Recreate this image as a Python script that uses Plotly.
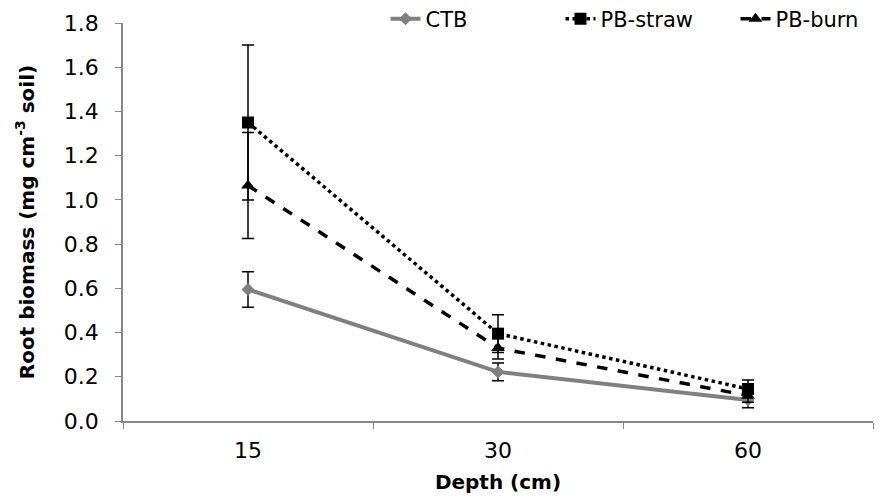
import plotly.graph_objects as go

depths = ["15", "30", "60"]
ctb = [0.595, 0.222, 0.095]
ctb_err = [0.08, 0.04, 0.035]
pb_straw = [1.35, 0.395, 0.145]
pb_straw_err = [0.35, 0.085, 0.04]
pb_burn = [1.065, 0.33, 0.115]
pb_burn_err = [0.24, 0.05, 0.03]

FONT = "DejaVu Sans, Liberation Sans, Arial"

fig = go.Figure()
err_style = dict(type="data", visible=True, color="black", thickness=1.5, width=6)

fig.add_trace(go.Scatter(
    x=depths, y=ctb, name="CTB", mode="lines+markers",
    line=dict(color="#808080", width=4),
    marker=dict(symbol="diamond", size=10, color="#808080"),
    error_y=dict(array=ctb_err, **err_style)))
fig.add_trace(go.Scatter(
    x=depths, y=pb_straw, name="PB-straw", mode="lines+markers",
    line=dict(color="black", width=3.5, dash="dot"),
    marker=dict(symbol="square", size=12, color="black"),
    error_y=dict(array=pb_straw_err, **err_style)))
fig.add_trace(go.Scatter(
    x=depths, y=pb_burn, name="PB-burn", mode="lines+markers",
    line=dict(color="black", width=3.5, dash="dash"),
    marker=dict(symbol="triangle-up", size=12, color="black"),
    error_y=dict(array=pb_burn_err, **err_style)))

fig.update_layout(
    width=890, height=499,
    margin=dict(l=123, r=17, t=23, b=78, autoexpand=False),
    plot_bgcolor="white", paper_bgcolor="white",
    font=dict(family=FONT, size=22, color="black"),
    legend=dict(orientation="h", x=1.05, xanchor="right", y=1.01, yanchor="middle",
                font=dict(family=FONT, size=21), bgcolor="rgba(0,0,0,0)",
                traceorder="normal", tracegroupgap=0, entrywidth=130),
    xaxis=dict(
        type="category", title=dict(text="<b>Depth (cm)</b>", font=dict(family=FONT, size=20), standoff=13),
        showline=True, linecolor="#868686", linewidth=1.5, tickfont=dict(family=FONT, size=22),
        ticks="outside", tickson="boundaries", ticklen=6, tickcolor="#868686",
        ticklabelstandoff=9,
        showgrid=False, range=[-0.5, 2.5]),
    yaxis=dict(
        title=dict(text="<b>Root biomass (mg cm<sup>-3</sup> soil)</b>", font=dict(family=FONT, size=20), standoff=24),
        range=[0, 1.8], dtick=0.2, tickformat=".1f", tickfont=dict(family=FONT, size=22),
        showline=True, linecolor="#868686", linewidth=1.5,
        ticks="outside", ticklen=6, tickcolor="#868686",
        ticklabelstandoff=12,
        showgrid=False, zeroline=False),
)

fig.write_html("out.html")
